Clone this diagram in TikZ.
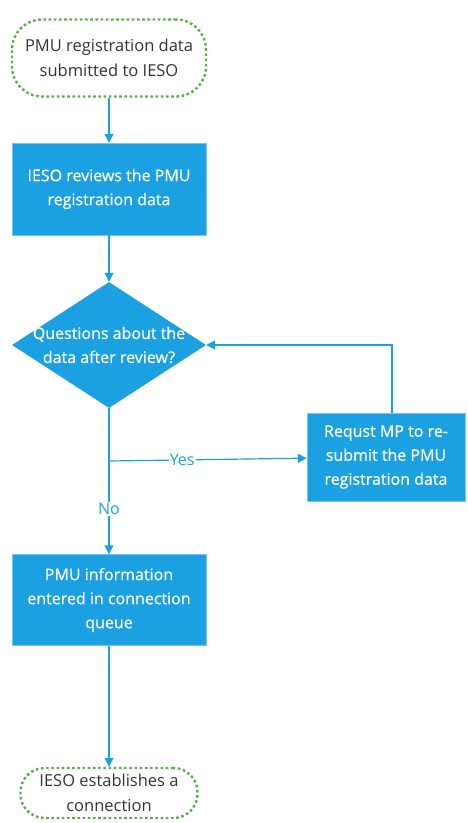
\documentclass[tikz,border=0pt]{standalone}
\usepackage{fontspec}
\setmainfont{Open Sans}
\newfontfamily\boxfont[FakeBold=0.5]{Open Sans}
\usepackage{tikz}
\usetikzlibrary{shapes.geometric,arrows.meta}
\definecolor{flowblue}{HTML}{1BA1E2}
\definecolor{termgreen}{HTML}{5AAE4B}
\definecolor{termtext}{HTML}{333333}

\begin{document}
\begin{tikzpicture}[x=1pt,y=-1pt,>={Triangle[length=9pt,width=9pt]}]
        \tikzstyle{every node} = [font=\fontsize{16}{24}\selectfont, align=center]
        \tikzstyle{terminal} = [rectangle, rounded corners=30pt, draw=termgreen, line width=2.4pt, dash pattern=on 2.6pt off 2.6pt, text=termtext, font=\fontsize{16.5}{25}\selectfont]
        \tikzstyle{process} = [rectangle, fill=flowblue, draw=flowblue!60!white, text=white, minimum width=194pt, font=\fontsize{16}{24}\boxfont]
        \tikzstyle{decision} = [diamond, fill=flowblue, inner sep=0pt, minimum width=194pt, minimum height=126pt]
        \tikzstyle{flow} = [->, draw=flowblue, line width=1.2pt]
        \tikzstyle{answer} = [fill=white, text=flowblue, inner sep=1pt]
        \useasboundingbox (0,0) rectangle (467,823);

        \node[terminal, minimum width=194pt, minimum height=77pt] (submitted) at (109,58) {PMU registration data\\submitted to IESO};
        \node[process, minimum height=92pt] (reviews) at (109,189) {IESO reviews the PMU\\registration data};
        \node[decision, label={[text=white, align=center, font=\fontsize{16}{24}\boxfont]center:Questions about the\\data after review?}] (questions) at (109,345) {};
        \node[process, minimum width=158pt, minimum height=88pt] (resubmit) at (386,457) {Requst MP to re-\\submit the PMU\\registration data};
        \node[process, minimum height=91pt] (queue) at (109,600) {PMU information\\entered in connection\\queue};
        \node[terminal, minimum width=177pt, minimum height=50pt, rounded corners=24pt] (connection) at (109,793) {IESO establishes a\\connection};
        \coordinate (split) at (109,461);

        \draw[flow] (submitted) -- (reviews);
        \draw[flow] (reviews) -- (questions);
        \draw[flow] (questions) -- node[answer, pos=0.69] {No} (queue);
        \draw[flow] (split) -- node[answer, pos=0.37] {Yes} (resubmit);
        \draw[flow] ([xshift=6pt]resubmit.north) |- (questions.east);
        \draw[flow] (queue) -- (connection);
\end{tikzpicture}
\end{document}
